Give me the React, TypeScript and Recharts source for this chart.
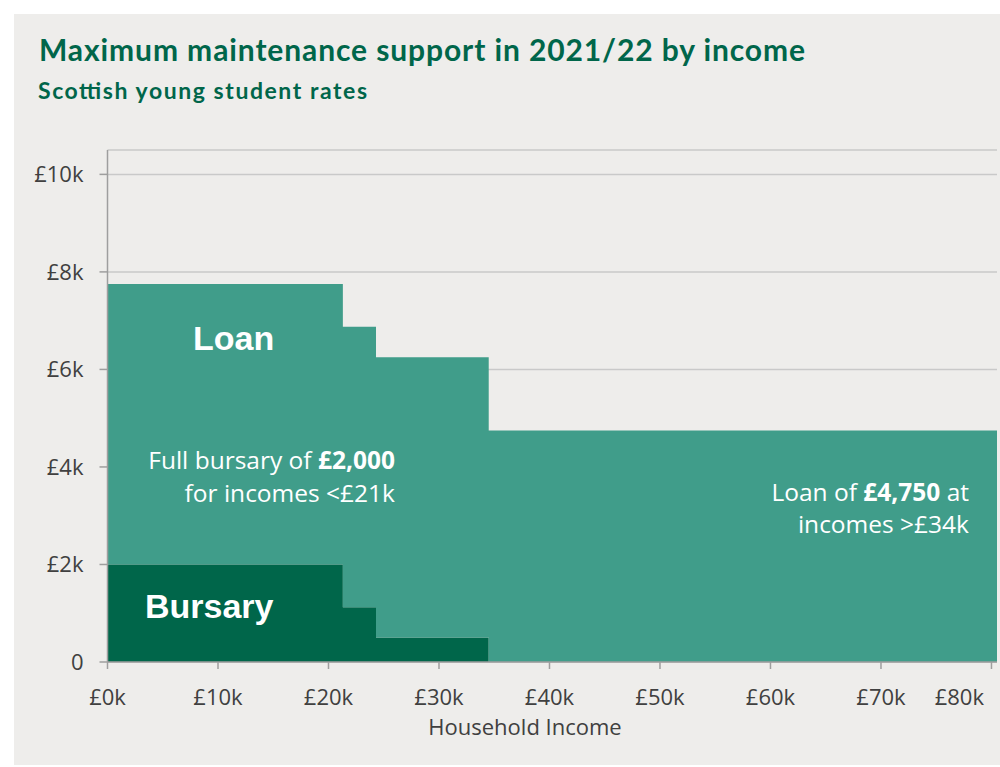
import { AreaChart, Area, XAxis, YAxis, CartesianGrid } from 'recharts';

// household income break points (£) and the maximum support at each band
const incomes = [0, 21300, 24300, 34500, 80500];
const bursary = [2000, 1125, 500, 0, 0];
const loan = [5750, 5750, 5750, 4750, 4750];

const xTicks = [0, 10000, 20000, 30000, 40000, 50000, 60000, 70000, 80000];
const yTicks = [0, 2000, 4000, 6000, 8000, 10000];

const GREEN_DARK = '#00664a';
const TEAL = '#409d8a';
const BG = '#eeedeb';
const AXIS = '#9e9e9e';
const TXT = '#404040';

const data = incomes.map((income, i) => ({
    income,
    bursary: bursary[i],
    loan: loan[i]
}));

const fmtK = (v: number) => `£${v / 1000}k`;

function XTick(props: any) {
    const { x, y, payload } = props;
    const last = payload.value === xTicks[xTicks.length - 1];
    return (
        <text x={last ? x + 4 : x} y={y} dy="0.71em" textAnchor={last ? 'end' : 'middle'}
            fill={TXT} fontSize={22} fontFamily="Open Sans">
            {fmtK(payload.value)}
        </text>
    );
}

export default function App() {
    return (
        <div style={{ position: 'absolute', left: 0, top: 0, width: 1000, height: 767, background: '#fff' }}>
            <div style={{ position: 'absolute', left: 14, top: 14, width: 986, height: 751, background: BG, overflow: 'hidden' }}>
                <AreaChart
                    width={986}
                    height={751}
                    data={data}
                    margin={{ top: 136, right: 3, left: 0, bottom: 0 }}
                >
                    <CartesianGrid vertical={false} stroke="#c9c9c9" strokeWidth={1.5} />
                    <XAxis
                        dataKey="income"
                        type="number"
                        domain={[0, 80500]}
                        ticks={xTicks}
                        height={103}
                        tick={<XTick />}
                        tickSize={7}
                        tickMargin={20}
                        stroke={AXIS}
                        strokeWidth={1.5}
                    />
                    <YAxis
                        type="number"
                        domain={[0, 10500]}
                        ticks={yTicks}
                        width={93.5}
                        tickFormatter={(v: number) => (v === 0 ? '0' : fmtK(v))}
                        tick={{ fill: TXT, fontSize: 22, fontFamily: 'Open Sans' }}
                        tickSize={8}
                        tickMargin={16}
                        stroke={AXIS}
                        strokeWidth={1.5}
                    />
                    <Area type="stepAfter" dataKey="bursary" stackId="s" fill={GREEN_DARK} fillOpacity={1} stroke="none" isAnimationActive={false} />
                    <Area type="stepAfter" dataKey="loan" stackId="s" fill={TEAL} fillOpacity={1} stroke="none" isAnimationActive={false} />
                </AreaChart>
                <svg width={986} height={751} style={{ position: 'absolute', left: 0, top: 0, pointerEvents: 'none' }}>
                    <text x={25} y={47} fill={GREEN_DARK} fontFamily="Lato" fontWeight={700} fontSize={30}
                        textLength={766} lengthAdjust="spacing">
                        Maximum maintenance support in 2021/22 by income
                    </text>
                    <text x={24} y={85} fill={GREEN_DARK} fontFamily="Lato" fontWeight={700} fontSize={23}
                        textLength={329} lengthAdjust="spacing">
                        Scottish young student rates
                    </text>
                    <text x={511} y={721} fill={TXT} fontFamily="Open Sans" fontSize={22} textAnchor="middle">
                        Household Income
                    </text>
                    <text x={179} y={336} fill="#fff" fontFamily="Liberation Sans" fontWeight={700} fontSize={34}>Loan</text>
                    <text x={131} y={604} fill="#fff" fontFamily="Liberation Sans" fontWeight={700} fontSize={34}>Bursary</text>
                    <g fill="#fff" fontFamily="Open Sans" fontSize={24.5} textAnchor="end">
                        <text x={381} y={455}>Full bursary of <tspan fontWeight={700}>£2,000</tspan></text>
                        <text x={381} y={488}>for incomes &lt;£21k</text>
                        <text x={955} y={487}>Loan of <tspan fontWeight={700}>£4,750</tspan> at</text>
                        <text x={955} y={519}>incomes &gt;£34k</text>
                    </g>
                </svg>
            </div>
        </div>
    );
}
